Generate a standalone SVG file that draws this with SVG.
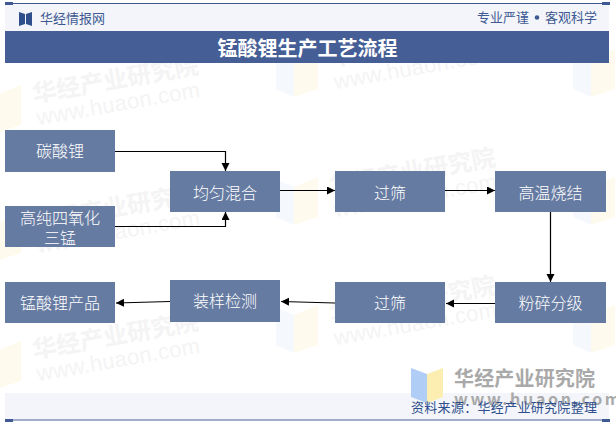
<svg xmlns="http://www.w3.org/2000/svg" width="616" height="424" viewBox="0 0 616 424">
<style>
text{font-family:"Noto Sans CJK SC","Noto Sans",sans-serif}
.n{fill:#667ba2}
.t{fill:#fff;font-size:16px;text-anchor:middle;font-weight:300}
.c{fill:none;stroke:#000;stroke-width:1.2;marker-end:url(#a)}
.wm{fill:#e4e4e4;font-size:24px;font-weight:700;opacity:.4}
.wu{fill:#e4e4e4;font-size:22px;font-family:"Liberation Sans",sans-serif;letter-spacing:.3px;opacity:.4}
.h{fill:#3f5a92;font-size:13px}
</style>
<defs>
<marker id="a" markerUnits="userSpaceOnUse" markerWidth="9" markerHeight="9" refX="8" refY="4" orient="auto"><path d="M0 0L8 4L0 8z" fill="#000"/></marker>
<g id="lg">
<path d="M-32 22L-8 12V52L-32 60z" fill="#fefbee"/>
<path d="M-50 14L-32 22V60L-50 52z" fill="#f5f9fe"/>
</g>
<g id="w">
<use href="#lg"/>
<text class="wm" transform="rotate(-10)" x="0" y="30">华经产业研究院</text>
<text class="wu" transform="rotate(-10)" x="0" y="53">www.huaon.com</text>
</g>
</defs>
<rect width="616" height="424" fill="#fff"/>
<g id="watermarks">
<use href="#w" x="29" y="73"/>
<use href="#w" x="29" y="201"/>
<use href="#w" x="29" y="329"/>
<use href="#w" x="326" y="37"/>
<use href="#w" x="326" y="165"/>
<use href="#w" x="326" y="293"/>
<use href="#lg" x="623" y="37"/>
<use href="#lg" x="623" y="165"/>
<use href="#lg" x="623" y="293"/>
</g>
<g id="header">
<rect x="5" y="3" width="604" height="28" fill="#f3f5fa"/>
<path d="M5 3.500H609" stroke="#3f5a92" stroke-width="1"/>
<rect x="5" y="2" width="8" height="3" fill="#3f5a92"/>
<rect x="602" y="2" width="8" height="3" fill="#3f5a92"/>
<path d="M19 12L25 14V24L19 26zM32 12L26 14V24L32 26z" fill="#2f4f8c"/>
<text class="h" x="40" y="23" textLength="65">华经情报网</text>
<text class="h" x="477" y="22" textLength="52">专业严谨</text>
<circle cx="537" cy="17.500" r="2.300" fill="#3f5a92"/>
<text class="h" x="545" y="22" textLength="52">客观科学</text>
<rect x="5" y="31" width="604" height="32" fill="#455e95"/>
<text x="307.500" y="56" fill="#fff" font-size="20" font-weight="700" text-anchor="middle">锰酸锂生产工艺流程</text>
</g>
<g id="connectors">
<path class="c" d="M115 151.500H225.500V171"/>
<path class="c" d="M115 226.500H225.500V212"/>
<path class="c" d="M280 190.500H335"/>
<path class="c" d="M445 190.500H495"/>
<path class="c" d="M550.500 212V282"/>
<path class="c" d="M495 303.500H446"/>
<path class="c" d="M335 303L281 301.500"/>
<path class="c" d="M170 301.500L116 303"/>
</g>
<g id="n1"><rect class="n" x="5" y="130" width="110" height="42"/><text class="t" x="60" y="157">碳酸锂</text></g>
<g id="n2"><rect class="n" x="5" y="206" width="110" height="41"/><text class="t" x="60" y="224">高纯四氧化</text><text class="t" x="60" y="244">三锰</text></g>
<g id="n3"><rect class="n" x="170" y="171" width="110" height="41"/><text class="t" x="225" y="199">均匀混合</text></g>
<g id="n4"><rect class="n" x="335" y="171" width="110" height="41"/><text class="t" x="390" y="199">过筛</text></g>
<g id="n5"><rect class="n" x="495" y="171" width="111" height="41"/><text class="t" x="550.500" y="199">高温烧结</text></g>
<g id="n6"><rect class="n" x="495" y="282" width="111" height="41"/><text class="t" x="550.500" y="309">粉碎分级</text></g>
<g id="n7"><rect class="n" x="335" y="282" width="110" height="41"/><text class="t" x="390" y="309">过筛</text></g>
<g id="n8"><rect class="n" x="170" y="280" width="110" height="42"/><text class="t" x="225" y="307">装样检测</text></g>
<g id="n9"><rect class="n" x="5" y="282" width="110" height="41"/><text class="t" x="60" y="309">锰酸锂产品</text></g>
<g id="footer">
<rect x="5" y="393" width="604" height="26" fill="#f3f5fa"/>
<path d="M5 420H609" stroke="#3f5a92" stroke-width="1"/>
<rect x="5" y="419" width="8" height="3" fill="#3f5a92"/>
<rect x="602" y="419" width="8" height="3" fill="#3f5a92"/>
<path d="M411 368L427 374V403L411 397z" fill="#b0cdf5"/>
<path d="M443 368L427 374V403L443 397z" fill="#fbeeb0"/>
<text x="454" y="386" font-size="20" font-weight="700" fill="#a9a9a9" textLength="141">华经产业研究院</text>
<text x="454" y="405" font-size="16" font-weight="700" fill="#a9a9a9" font-family="Liberation Sans" letter-spacing="2.700">www.huaon.com</text>
<text x="411" y="412" font-size="13" fill="#2f4f8c" textLength="186">资料来源：华经产业研究院整理</text>
</g>
</svg>
